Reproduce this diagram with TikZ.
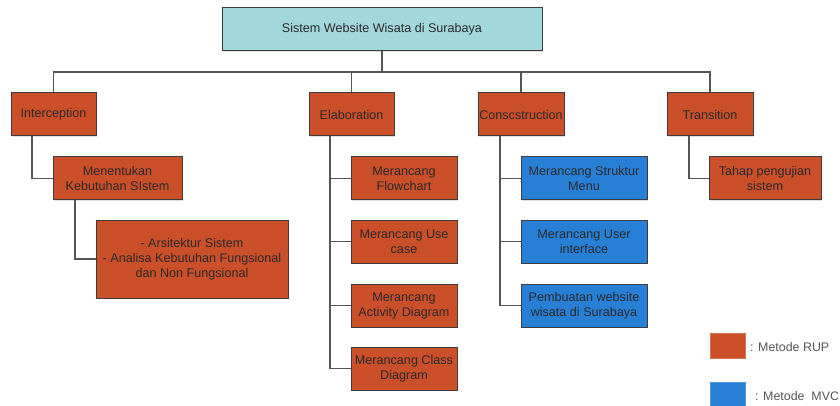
\documentclass[tikz,border=0pt]{standalone}
\usepackage{fontspec}
\setmainfont{Liberation Sans}
\usetikzlibrary{shadows}
\definecolor{rup}{HTML}{CB4F29}
\definecolor{mvc}{HTML}{2880D6}
\definecolor{topc}{HTML}{A2D7DB}
\definecolor{lin}{HTML}{555555}
\definecolor{bord}{HTML}{3C3C3C}
\definecolor{txt}{HTML}{2A2A2A}
\tikzset{
  box/.style={draw=bord, line width=1pt, minimum height=43pt, align=center, inner xsep=1pt, inner ysep=2pt,
    text=txt, font=\fontsize{12.6}{15}\selectfont,
    drop shadow={opacity=0.25, shadow xshift=1pt, shadow yshift=-1pt}},
  rupbox/.style={box, fill=rup},
  mvcbox/.style={box, fill=mvc},
  conn/.style={draw=lin, line width=1.3pt},
  legtext/.style={anchor=west, inner sep=0pt, text=lin, font=\fontsize{12.4}{14}\selectfont}
}
\begin{document}
\begin{tikzpicture}[x=1pt, y=-1pt]
\useasboundingbox (0,0) rectangle (840,406);
\clip (0,0) rectangle (840,406);
% top
\node[box, fill=topc, minimum width=320pt] (top) at (382,29.5) {Sistem Website Wisata di Surabaya};
% phases
\node[rupbox, minimum width=85pt] (intro) at (53.5,114.5) {Interception};
\node[rupbox, minimum width=85pt] (elab) at (351.5,114.5) {Elaboration};
\node[rupbox, minimum width=86pt] (cons) at (521,114.5) {Conscstruction};
\node[rupbox, minimum width=86pt] (trans) at (710,114.5) {Transition};
% interoception children
\node[rupbox, minimum width=129pt] (ment) at (117.5,178.5) {Menentukan\\Kebutuhan SIstem};
\node[rupbox, minimum width=192pt, minimum height=78pt] (ars) at (192,259) {- Arsitektur Sistem\\- Analisa Kebutuhan Fungsional\\dan Non Fungsional};
% elaboration children
\node[rupbox, minimum width=106pt] (e1) at (404,178.5) {Merancang\\Flowchart};
\node[rupbox, minimum width=106pt] (e2) at (404,241.5) {Merancang Use\\case};
\node[rupbox, minimum width=106pt] (e3) at (404,305.5) {Merancang\\Activity Diagram};
\node[rupbox, minimum width=106pt] (e4) at (404,368.5) {Merancang Class\\Diagram};
% construction children
\node[mvcbox, minimum width=126pt] (c1) at (584,178.5) {Merancang Struktur\\Menu};
\node[mvcbox, minimum width=126pt] (c2) at (584,241.5) {Merancang User\\interface};
\node[mvcbox, minimum width=126pt] (c3) at (584,305.5) {Pembuatan website\\wisata di Surabaya};
% transition child
\node[rupbox, minimum width=112pt] (t1) at (765,178.5) {Tahap pengujian\\sistem};
% legend
\node[fill=rup, draw=rup!80!white, minimum width=35pt, minimum height=25pt, inner sep=0pt] (lrup) at (727.5,345.5) {};
\node[fill=mvc, draw=mvc!80!white, minimum width=35pt, minimum height=25pt, inner sep=0pt] (lmvc) at (727.5,394.5) {};
\node[legtext] (lrupt) at (750,347) {: Metode RUP};
\node[legtext] (lmvct) at (755,396) {: Metode\ \ MVC};
% connectors
\coordinate (bus) at (382,72);
\draw[conn] (top.south) -- (bus);
\draw[conn] (intro.north) |- (bus);
\draw[conn] (trans.north) |- (bus);
\draw[conn] (elab.north) -- (elab.north |- bus);
\draw[conn] (cons.north) -- (cons.north |- bus);
\draw[conn] ([xshift=-21.5pt]intro.south) |- (ment.west);
\draw[conn] ([xshift=-42.5pt]ment.south) |- (ars.west);
\draw[conn] ([xshift=-21.5pt]elab.south) coordinate (ev) |- (e4.west);
\draw[conn] (e1.west) -- (e1.west -| ev);
\draw[conn] (e2.west) -- (e2.west -| ev);
\draw[conn] (e3.west) -- (e3.west -| ev);
\draw[conn] ([xshift=-21pt]cons.south) coordinate (cv) |- (c3.west);
\draw[conn] (c1.west) -- (c1.west -| cv);
\draw[conn] (c2.west) -- (c2.west -| cv);
\draw[conn] ([xshift=-21pt]trans.south) |- (t1.west);
\end{tikzpicture}
\end{document}
